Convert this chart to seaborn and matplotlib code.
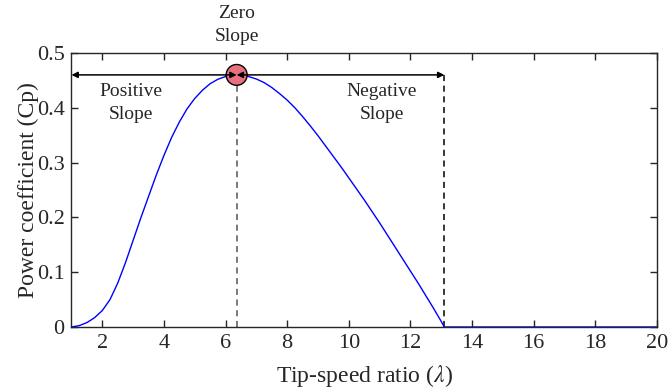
import matplotlib
matplotlib.use("Agg")
import matplotlib.pyplot as plt
from matplotlib.patches import Ellipse
from matplotlib.ticker import FuncFormatter
import seaborn as sns
import pandas as pd

# Power coefficient curve vs. tip-speed ratio
tsr = [1.0, 1.25, 1.5, 1.75, 2.0, 2.25, 2.5, 2.75, 3.0, 3.25, 3.5, 3.75,
       4.0, 4.25, 4.5, 4.75, 5.0, 5.25, 5.5, 5.75, 6.0, 6.25, 6.36, 6.5,
       6.75, 7.0, 7.25, 7.5, 7.75, 8.0, 8.25, 8.5, 8.75, 9.0, 9.25, 9.5,
       9.75, 10.0, 10.25, 10.5, 10.75, 11.0, 11.25, 11.5, 11.75, 12.0,
       12.25, 12.5, 12.75, 13.0, 13.1, 14.0, 20.0]
cp = [0.0, 0.0025, 0.008, 0.017, 0.030, 0.050, 0.080, 0.117, 0.158, 0.199,
      0.238, 0.277, 0.313, 0.346, 0.374, 0.398, 0.417, 0.432, 0.444, 0.452,
      0.457, 0.4595, 0.46, 0.4597, 0.457, 0.4525, 0.446, 0.437, 0.426,
      0.414, 0.400, 0.384, 0.367, 0.349, 0.330, 0.311, 0.292, 0.272, 0.252,
      0.232, 0.211, 0.190, 0.168, 0.146, 0.124, 0.102, 0.080, 0.057, 0.034,
      0.010, 0.0, 0.0, 0.0]

peak_tsr = 6.36
peak_cp = 0.46
zero_tsr = 13.1

x_ticks = [2, 4, 6, 8, 10, 12, 14, 16, 18, 20]
y_ticks = [0, 0.1, 0.2, 0.3, 0.4, 0.5]

sns.set_style("ticks")
plt.rcParams["font.family"] = ["Liberation Serif", "DejaVu Serif"]
plt.rcParams["mathtext.fontset"] = "stix"

fig = plt.figure(figsize=(6.68, 3.91), dpi=100)
ax = fig.add_axes([0.107, 0.1637, 0.8765, 0.7008])

df = pd.DataFrame({"tsr": tsr, "cp": cp})
sns.lineplot(data=df, x="tsr", y="cp", ax=ax, color="#0000ff", linewidth=1.0,
             zorder=3)

# vertical dashed guides
ax.plot([peak_tsr, peak_tsr], [0, peak_cp], linestyle=(0, (4, 3)),
        color="#555555", linewidth=1.1, zorder=2)
ax.plot([zero_tsr, zero_tsr], [0, peak_cp], linestyle=(0, (4, 3)),
        color="black", linewidth=1.1, zorder=2)

# horizontal arrows from the peak
arrow_kw = dict(arrowstyle="<|-|>", color="black", lw=1.1,
                mutation_scale=9, shrinkA=0, shrinkB=0)
ax.annotate("", xy=(1.0, peak_cp), xytext=(peak_tsr, peak_cp),
            arrowprops=arrow_kw, zorder=4)
ax.annotate("", xy=(zero_tsr, peak_cp), xytext=(peak_tsr, peak_cp),
            arrowprops=arrow_kw, zorder=4)

# marker around the maximum
ax.add_patch(Ellipse((peak_tsr, peak_cp), width=0.68, height=0.038,
                     facecolor="#e8707f", edgecolor="black", linewidth=1.0,
                     zorder=3))

txt_kw = dict(ha="center", va="center", fontsize=14, linespacing=1.45)
ax.text(2.92, 0.409, "Positive\nSlope", **txt_kw)
ax.text(11.06, 0.409, "Negative\nSlope", **txt_kw)
ax.text(peak_tsr, 0.551, "Zero\nSlope", clip_on=False, **txt_kw)

ax.set_xlim(1, 20)
ax.set_ylim(0, 0.5)
ax.set_xticks(x_ticks)
ax.set_yticks(y_ticks)
ax.yaxis.set_major_formatter(FuncFormatter(lambda v, p: f"{v:g}"))
ax.tick_params(direction="in", length=5, width=1.0, labelsize=16,
               top=True, right=True, color="#262626", labelcolor="#262626",
               pad=5)
for s in ax.spines.values():
    s.set_visible(True)
    s.set_color("#262626")
    s.set_linewidth(1.0)

ax.set_xlabel(r"Tip-speed ratio ($\lambda$)", fontsize=17, color="#262626",
              labelpad=7)
ax.set_ylabel("Power coefficient (Cp)", fontsize=17, color="#262626",
              labelpad=-2)

fig.savefig("out.png", dpi=100)
